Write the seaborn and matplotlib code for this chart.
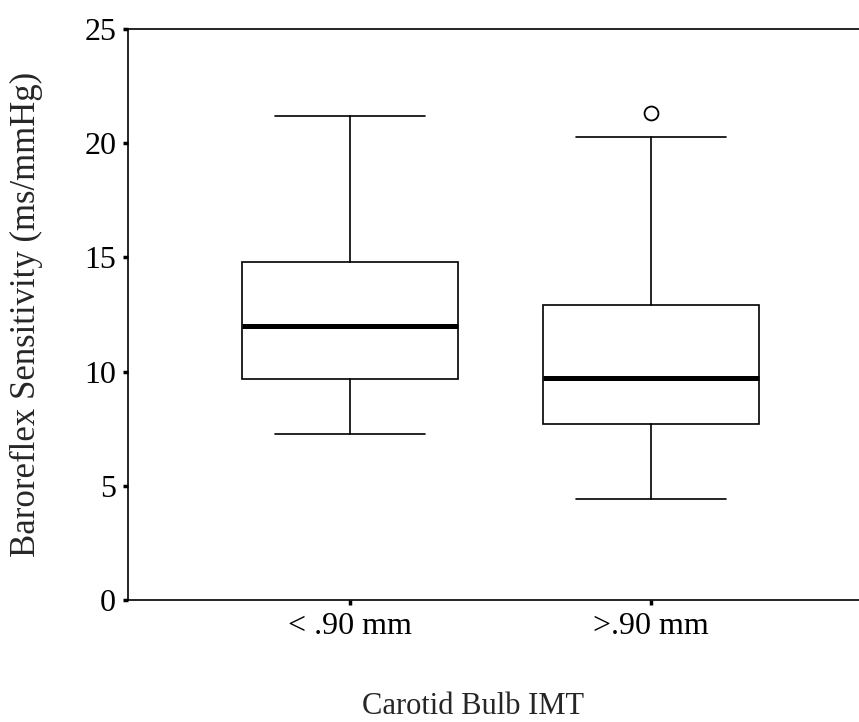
import matplotlib
matplotlib.use('Agg')
import matplotlib.pyplot as plt
import seaborn as sns

# Box summaries (ms/mmHg)
groups = ['< .90 mm', '>.90 mm']
whisker_low = [7.27, 4.42]
q1 = [9.69, 7.71]
median = [12.01, 9.73]
q3 = [14.80, 12.92]
whisker_high = [21.17, 20.27]
outliers = [[], [21.33]]

sns.set_style('ticks')
plt.rcParams['font.family'] = ['Liberation Serif', 'DejaVu Serif']

stats = []
for i, g in enumerate(groups):
    stats.append({'label': g, 'whislo': whisker_low[i], 'q1': q1[i], 'med': median[i],
                  'q3': q3[i], 'whishi': whisker_high[i], 'fliers': outliers[i]})

fig = plt.figure(figsize=(8.59, 7.22), dpi=100)
ax = fig.add_axes([128 / 859, 1 - 600 / 722, 1 - 128 / 859, (600 - 29) / 722])

ax.bxp(stats, positions=[0, 1], widths=0.72, capwidths=0.5, patch_artist=True,
       boxprops=dict(facecolor='white', edgecolor='black', linewidth=1.2),
       whiskerprops=dict(color='black', linewidth=1.2),
       capprops=dict(color='black', linewidth=1.2),
       medianprops=dict(color='black', linewidth=3.6, solid_capstyle='butt'),
       flierprops=dict(marker='o', markerfacecolor='white', markeredgecolor='black',
                       markersize=10, markeredgewidth=1.3))

ax.set_xlim(-0.7375, 1.691)
ax.set_ylim(0, 25)
ax.set_yticks([0, 5, 10, 15, 20, 25])
ax.set_xticks([0, 1])
ax.set_xticklabels(groups)

sns.despine(ax=ax, right=True, top=False)
for s in ['left', 'bottom', 'top']:
    ax.spines[s].set_linewidth(1.2)
    ax.spines[s].set_color('black')

ax.tick_params(axis='both', direction='out', length=3.5, width=2.5, colors='black',
               labelsize=23, pad=5)

ax.set_ylabel('Baroreflex Sensitivity (ms/mmHg)', fontsize=25, va='center')
ax.yaxis.set_label_coords((26 - 128) / (859 - 128), 0.5)
ax.set_xlabel('Carotid Bulb IMT', fontsize=22, va='center')
ax.xaxis.set_label_coords((473 - 128) / (859 - 128), -(706 - 600) / (600 - 29))

fig.savefig('out.png', dpi=100)
